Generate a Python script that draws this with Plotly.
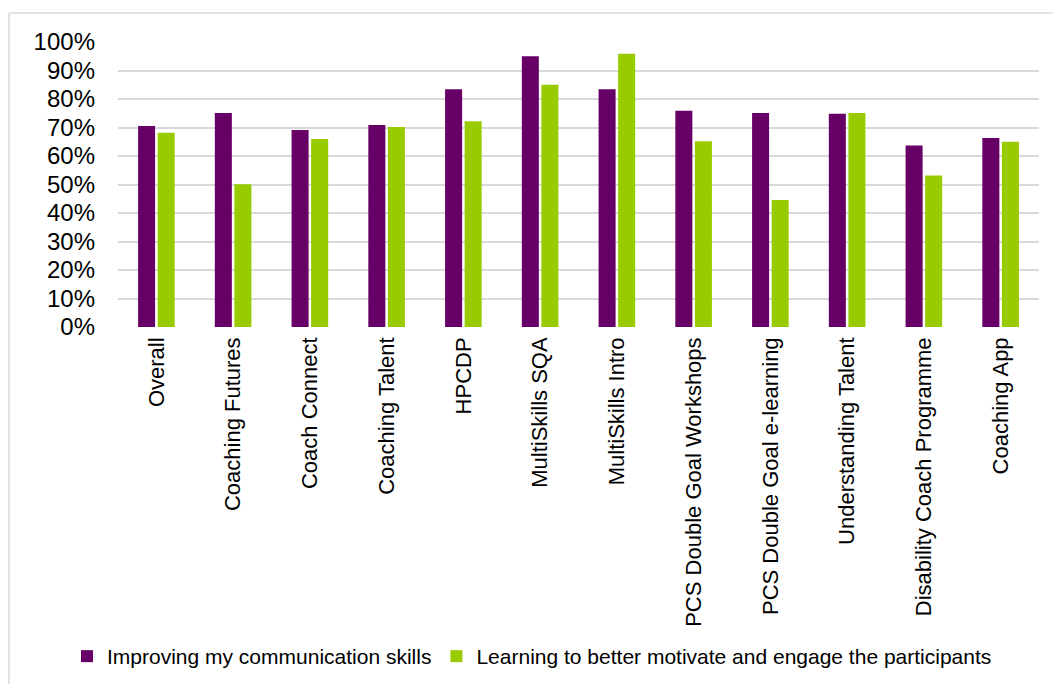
import plotly.graph_objects as go

# Survey results by programme
categories = [
    "Overall", "Coaching Futures", "Coach Connect", "Coaching Talent", "HPCDP",
    "MultiSkills SQA", "MultiSkills Intro", "PCS Double Goal Workshops",
    "PCS Double Goal e-learning", "Understanding Talent",
    "Disability Coach Programme", "Coaching App",
]
communication = [0.705, 0.751, 0.691, 0.709, 0.834, 0.950, 0.834, 0.759, 0.751, 0.748, 0.637, 0.663]
motivation = [0.682, 0.501, 0.660, 0.702, 0.722, 0.850, 0.959, 0.652, 0.446, 0.751, 0.532, 0.650]

series_names = [
    "Improving my communication skills",
    "Learning to better motivate and engage the participants",
]
tick_values = [i / 10 for i in range(11)]
tick_labels = [f"{i * 10}%" for i in range(11)]

FONT = "Liberation Sans, Arial, sans-serif"

fig = go.Figure()
fig.add_trace(go.Bar(x=categories, y=communication, name=series_names[0],
                     marker=dict(color="#660066", line=dict(width=0))))
fig.add_trace(go.Bar(x=categories, y=motivation, name=series_names[1],
                     marker=dict(color="#99cc00", line=dict(width=0))))

W, H = 1053, 684
L, R, T, B = 118, 14, 42, 357
pw, ph = W - L - R, H - T - B


def px_x(x):
    return (x - L) / pw


def px_y(y):
    return (H - B - y) / ph


border = dict(color="#d9d9d9", width=1.5)
fig.add_shape(type="line", xref="paper", yref="paper",
              x0=px_x(9), x1=px_x(W), y0=px_y(13), y1=px_y(13), line=border)
fig.add_shape(type="line", xref="paper", yref="paper",
              x0=px_x(9), x1=px_x(9), y0=px_y(13), y1=px_y(H), line=border)

fig.update_layout(
    width=W, height=H,
    margin=dict(l=L, r=R, t=T, b=B, autoexpand=False),
    paper_bgcolor="white", plot_bgcolor="white",
    barmode="group", bargap=0.49, bargroupgap=0.13,
    font=dict(family=FONT, color="#000000"),
    showlegend=True,
    legend=dict(
        orientation="h", x=px_x(67), xanchor="left", y=px_y(636), yanchor="top",
        font=dict(size=21, family=FONT), bgcolor="rgba(0,0,0,0)",
        itemwidth=30, traceorder="normal",
    ),
    xaxis=dict(
        tickangle=-90, tickfont=dict(size=22), showgrid=False, showline=False,
        ticks="", ticklabelstandoff=5,
    ),
    yaxis=dict(
        range=[0, 1], tickvals=tick_values, ticktext=tick_labels,
        tickfont=dict(size=24), showgrid=True, gridcolor="#d9d9d9", gridwidth=2,
        zeroline=False, showline=False, ticks="", ticklabelstandoff=22,
    ),
)

fig.write_html("out.html")
